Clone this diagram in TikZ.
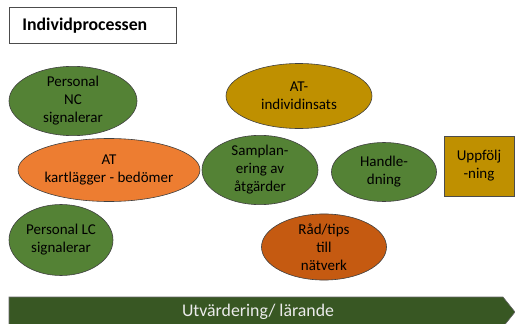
\documentclass[tikz,border=0pt]{standalone}
\usepackage{fontspec}
\setmainfont{Carlito}
\usetikzlibrary{shapes.geometric}
\definecolor{ogreen}{HTML}{548235}
\definecolor{oorange}{HTML}{ED7D31}
\definecolor{ogold}{HTML}{BF9000}
\definecolor{odorange}{HTML}{C55A11}
\definecolor{dgreen}{HTML}{385723}
\tikzset{
  blob/.style={ellipse, draw=black!75, line width=0.6pt, inner sep=0pt, text=black,
    font=\fontsize{15}{18}\selectfont, align=center},
}
\begin{document}
\begin{tikzpicture}[x=1pt,y=-1pt]
\useasboundingbox (0,0) rectangle (515,324);
\begin{scope}
\clip (0,0) rectangle (515,324);
\node[draw=black!70, line width=0.7pt, minimum width=167pt, minimum height=36pt, inner sep=0pt,
  anchor=north west, text width=153pt, align=left, text=black, font=\fontsize{17.8}{20}\bfseries\selectfont]
  (title) at (9,7) {\hspace*{6pt}Individprocessen};
\node[blob, fill=ogreen, minimum width=128pt, minimum height=68pt] (nc) at (73,101) {Personal\\NC\\signalerar};
\node[blob, fill=oorange, minimum width=152pt, minimum height=63pt] (atk) at (109,170) {AT\\kartlägger - bedömer};
\node[blob, fill=ogreen, minimum width=104pt, minimum height=71pt] (lc) at (61,240) {Personal LC\\signalerar};
\node[blob, fill=ogold, minimum width=146pt, minimum height=65pt] (ati) at (299,96) {AT-\\individinsats};
\node[blob, fill=ogreen, minimum width=116pt, minimum height=65pt] (sam) at (260,170) {Samplan-\\ering av\\åtgärder};
\node[blob, fill=ogreen, minimum width=105pt, minimum height=59pt] (han) at (384,172) {Handle-\\dning};
\node[blob, fill=odorange, minimum width=125pt, minimum height=64pt] (rad) at (324,247) {Råd/tips\\till\\nätverk};
\node[draw=black!70, line width=0.6pt, fill=ogold, rectangle, minimum width=70pt, minimum height=60pt,
  inner sep=0pt, text=black, font=\fontsize{15}{18}\selectfont, align=center] (upp) at (479,166) {Uppfölj\\-ning};
\draw[draw=black!60, line width=0.6pt, fill=dgreen] (9,297) -- (503,297) -- (515,312) -- (503,327) -- (9,327) -- cycle;
\node[text=white!92!black, font=\fontsize{17.8}{21}\selectfont] (bar) at (258,312) {Utvärdering/ lärande};
\end{scope}
\end{tikzpicture}
\end{document}
